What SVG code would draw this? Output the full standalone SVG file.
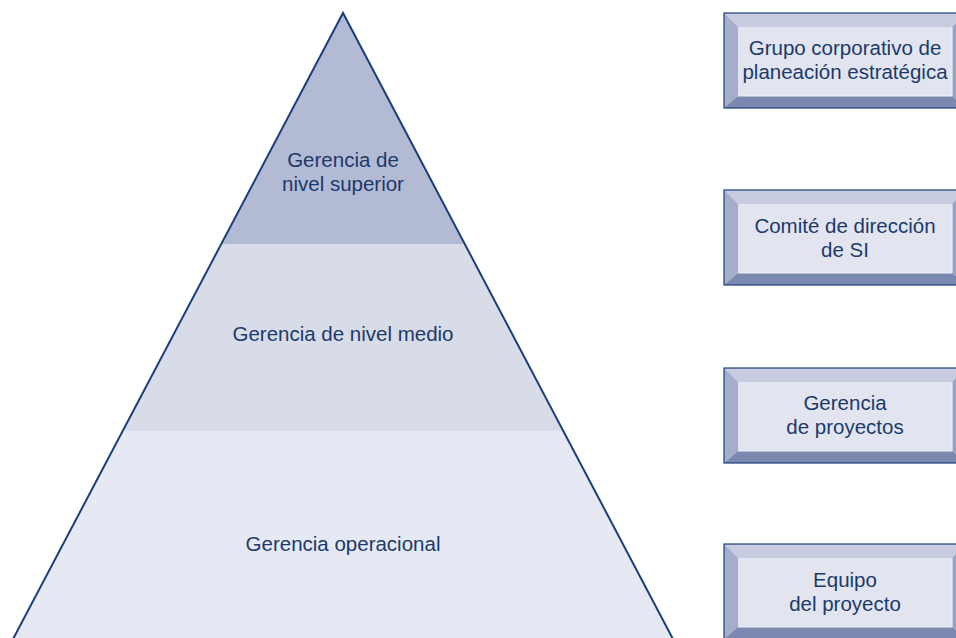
<svg xmlns="http://www.w3.org/2000/svg" width="956" height="638" viewBox="0 0 956 638">
<style>
text{font-family:"Liberation Sans",Arial,sans-serif;font-size:20.5px;fill:#1b3a6b;text-anchor:middle}
.edge{stroke:#1a3f7a;stroke-width:2;fill:none}
.bt{fill:#c6cbdf}.bl{fill:#a5adcb}.bb{fill:#7b89b1}.br{fill:#98a2c3}.face{fill:#e2e5f0}
.out{fill:none;stroke:#1a3f7a;stroke-width:1.2}
</style>
<defs>
<g id="box">
<rect class="face" x="0" y="0" width="244" height="95"/>
<polygon class="bt" points="0,0 244,0 228,14 14,14"/>
<polygon class="bl" points="0,0 14,14 14,83 0,95"/>
<polygon class="bb" points="0,95 14,83 228,83 244,95"/>
<polygon class="br" points="244,0 228,14 228,83 244,95"/>
<rect class="face" x="14" y="14" width="214" height="69"/>
<line x1="14" y1="83" x2="228" y2="83" stroke="#f2f3f8" stroke-width="1"/>
<line x1="228" y1="14" x2="228" y2="83" stroke="#f2f3f8" stroke-width="1"/>
<rect class="out" x="0" y="0" width="244" height="95"/>
</g>
</defs>
<g id="pyramid">
<polygon points="343,13 221.5,244 464.5,244" fill="#b3bbd4"/>
<polygon points="221.5,244 464.5,244 563.3,431 122.7,431" fill="#d8dce9"/>
<polygon points="122.7,431 563.3,431 672.5,638 13.5,638" fill="#e6e9f3"/>
<polyline class="edge" points="12,641 343,13 674,641"/>
</g>
<g id="level-top"><text x="343" y="167">Gerencia de</text><text x="343" y="191">nivel superior</text></g>
<g id="level-mid"><text x="343" y="341">Gerencia de nivel medio</text></g>
<g id="level-op"><text x="343" y="551">Gerencia operacional</text></g>
<g id="box1"><use href="#box" x="724" y="13"/><text x="845" y="55">Grupo corporativo de</text><text x="845" y="79">planeación estratégica</text></g>
<g id="box2"><use href="#box" x="724" y="190"/><text x="845" y="233">Comité de dirección</text><text x="845" y="257">de SI</text></g>
<g id="box3"><use href="#box" x="724" y="368"/><text x="845" y="410">Gerencia</text><text x="845" y="434">de proyectos</text></g>
<g id="box4"><use href="#box" x="724" y="544"/><text x="845" y="587">Equipo</text><text x="845" y="611">del proyecto</text></g>
</svg>
